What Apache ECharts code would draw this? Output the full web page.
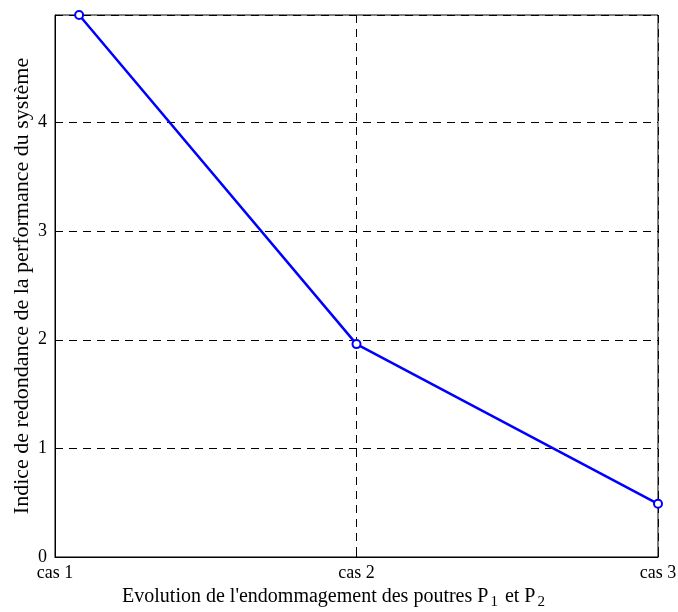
<!DOCTYPE html>
<html>
<head>
<meta charset="utf-8">
<script src="https://cdn.jsdelivr.net/npm/echarts@6/dist/echarts.min.js"></script>
<style>
  html, body { margin: 0; padding: 0; background: #fff; }
  #chart { width: 678px; height: 612px; }
</style>
</head>
<body>
<div id="chart"></div>
<script>
// cas positions on the x axis, and the performance index
var casX = [1.08, 2, 3];
var indiceValues = [4.99, 1.96, 0.49];
var casLabels = ['cas 1', 'cas 2', 'cas 3'];

var points = casX.map(function (x, i) { return [x, indiceValues[i]]; });

var chart = echarts.init(document.getElementById('chart'));
var font = 'Liberation Serif';
var dash = [8, 6];

var option = {
  backgroundColor: '#fff',
  animation: false,
  grid: {
    left: 55, right: 20, top: 15, bottom: 55,
    outerBoundsMode: 'none',
    containLabel: false,
    show: true, borderColor: '#000', borderWidth: 1
  },
  xAxis: {
    type: 'value',
    min: 1, max: 3, interval: 1,
    name: "Evolution de l'endommagement des poutres P{sub|1} et P{sub|2}",
    nameLocation: 'middle',
    nameGap: 26,
    nameMoveOverlap: false,
    nameTextStyle: {
      fontFamily: font, fontSize: 20, color: '#000',
      padding: [0, 44, 0, 0],
      rich: {
        sub: { fontFamily: font, fontSize: 15, color: '#000', padding: [12, 2, 0, 2] }
      }
    },
    axisLine: { show: true, onZero: false, lineStyle: { color: '#000', width: 1 } },
    axisTick: { show: true, inside: true, length: 5, lineStyle: { color: '#000' } },
    axisLabel: {
      fontFamily: font, fontSize: 18, color: '#000', margin: 7,
      formatter: function (v) { return casLabels[Math.round(v) - 1]; }
    },
    splitLine: { show: true, lineStyle: { color: '#000', type: dash, width: 1 } }
  },
  yAxis: {
    type: 'value',
    min: 0, max: 4.99, interval: 1,
    name: 'Indice de redondance de la performance du système',
    nameLocation: 'middle',
    nameGap: 22,
    nameMoveOverlap: false,
    nameTextStyle: { fontFamily: font, fontSize: 22, color: '#000' },
    axisLine: { show: true, lineStyle: { color: '#000', width: 1 } },
    axisTick: { show: true, inside: true, length: 5, lineStyle: { color: '#000' } },
    axisLabel: {
      fontFamily: font, fontSize: 18, color: '#000', margin: 8,
      showMaxLabel: false,
      formatter: function (v) { return Math.abs(v - Math.round(v)) < 1e-6 ? String(Math.round(v)) : ''; }
    },
    splitLine: { show: true, lineStyle: { color: '#000', type: dash, width: 1 } }
  },
  series: [{
    type: 'line',
    data: points,
    symbol: 'circle',
    symbolSize: 8,
    showAllSymbol: true,
    clip: false,
    lineStyle: { color: '#0000ff', width: 2.5 },
    itemStyle: { color: '#fff', borderColor: '#0000ff', borderWidth: 2 }
  }]
};

chart.setOption(option);
</script>
</body>
</html>
